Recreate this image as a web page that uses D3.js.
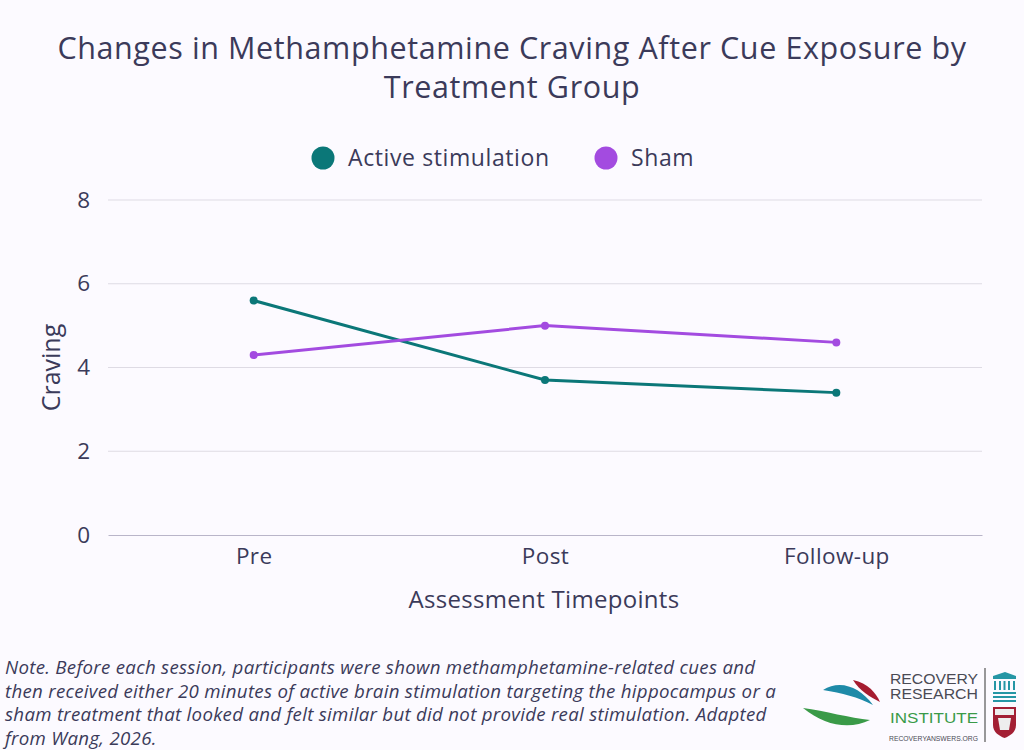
<!DOCTYPE html>
<html>
<head>
<meta charset="utf-8">
<script src="https://cdn.jsdelivr.net/npm/d3@7"></script>
<style>
  body { margin: 0; background: #fcfaff; }
  svg { display: block; font-family: "Open Sans", "Noto Sans", sans-serif; }
</style>
</head>
<body>
<div id="chart"></div>
<script>
// Data
var timepoints = ["Pre", "Post", "Follow-up"];
var activeValues = [5.6, 3.7, 3.4];
var shamValues = [4.3, 5.0, 4.6];
var yTicks = [0, 2, 4, 6, 8];
var seriesNames = ["Active stimulation", "Sham"];

var titleLines = ["Changes in Methamphetamine Craving After Cue Exposure by", "Treatment Group"];
var noteLines = [
  "Note. Before each session, participants were shown methamphetamine-related cues and",
  "then received either 20 minutes of active brain stimulation targeting the hippocampus or a",
  "sham treatment that looked and felt similar but did not provide real stimulation. Adapted",
  "from Wang, 2026."
];

var svgWidth = 1024;
var svgHeight = 750;
var textColor = "#3b3a5a";
var colors = ["#0b7778", "#a34be0"];

var margins = { top: 200, right: 42, bottom: 215, left: 108 };
var width = svgWidth - margins.left - margins.right;
var height = svgHeight - margins.top - margins.bottom;

var svg = d3.select("#chart")
  .append("svg")
  .attr("width", svgWidth)
  .attr("height", svgHeight);

svg.append("rect")
  .attr("width", svgWidth)
  .attr("height", svgHeight)
  .attr("fill", "#fcfaff");

// Title
svg.append("g").selectAll("text")
  .data(titleLines)
  .enter()
  .append("text")
  .attr("x", svgWidth / 2)
  .attr("y", (d, i) => 59 + i * 39)
  .attr("text-anchor", "middle")
  .attr("font-size", 30.5)
  .attr("letter-spacing", 0.6)
  .attr("fill", textColor)
  .text(d => d);

// Legend
var legend = svg.append("g");
var legendX = [323, 606];
seriesNames.forEach(function(name, i) {
  legend.append("circle")
    .attr("cx", legendX[i])
    .attr("cy", 158)
    .attr("r", 11.5)
    .attr("fill", colors[i]);
  legend.append("text")
    .attr("x", legendX[i] + 25)
    .attr("y", 166)
    .attr("font-size", 23)
    .attr("letter-spacing", 0.6)
    .attr("fill", textColor)
    .text(name);
});

var chartGroup = svg.append("g")
  .attr("transform", `translate(${margins.left}, ${margins.top})`);

// Scales
var xScale = d3.scalePoint()
  .domain(timepoints)
  .range([0, width])
  .padding(0.5);

var yScale = d3.scaleLinear()
  .domain([0, 8])
  .range([height, 0]);

// Gridlines
chartGroup.append("g")
  .selectAll("line")
  .data(yTicks.filter(d => d > 0))
  .enter()
  .append("line")
  .attr("x1", 0)
  .attr("x2", width)
  .attr("y1", d => yScale(d))
  .attr("y2", d => yScale(d))
  .attr("stroke", "#dedbe4")
  .attr("stroke-width", 1);

// Axes
var leftAxis = d3.axisLeft(yScale).tickValues(yTicks).tickSize(0).tickPadding(18);
var yAxisG = chartGroup.append("g").call(leftAxis);
yAxisG.select(".domain").remove();
yAxisG.selectAll("text")
  .attr("font-size", 22.5)
  .attr("font-family", "'Open Sans', sans-serif")
  .attr("fill", textColor);

var bottomAxis = d3.axisBottom(xScale).tickSize(0).tickPadding(13);
var xAxisG = chartGroup.append("g")
  .attr("transform", `translate(0, ${height})`)
  .call(bottomAxis);
xAxisG.select(".domain")
  .attr("stroke", "#b9b5c9")
  .attr("stroke-width", 1.2);
xAxisG.selectAll("text")
  .attr("font-size", 22.5)
  .attr("letter-spacing", 0.4)
  .attr("font-family", "'Open Sans', sans-serif")
  .attr("fill", textColor);

// Lines
var series = [activeValues, shamValues];
var line = d3.line()
  .x((d, i) => xScale(timepoints[i]))
  .y(d => yScale(d));

series.forEach(function(values, s) {
  chartGroup.append("path")
    .datum(values)
    .attr("fill", "none")
    .attr("stroke", colors[s])
    .attr("stroke-width", 3)
    .attr("d", line);

  chartGroup.selectAll(".dot" + s)
    .data(values)
    .enter()
    .append("circle")
    .attr("class", "dot" + s)
    .attr("cx", (d, i) => xScale(timepoints[i]))
    .attr("cy", d => yScale(d))
    .attr("r", 4)
    .attr("fill", colors[s]);
});

// Axis names
chartGroup.append("text")
  .attr("transform", "rotate(-90)")
  .attr("x", -height / 2)
  .attr("y", -48)
  .attr("text-anchor", "middle")
  .attr("font-size", 25)
  .attr("fill", textColor)
  .text("Craving");

chartGroup.append("text")
  .attr("x", width / 2 - 1)
  .attr("y", height + 73)
  .attr("text-anchor", "middle")
  .attr("font-size", 24)
  .attr("letter-spacing", 0.3)
  .attr("fill", textColor)
  .text("Assessment Timepoints");

// Note
svg.append("g").selectAll("text")
  .data(noteLines)
  .enter()
  .append("text")
  .attr("x", 5)
  .attr("y", (d, i) => 674 + i * 23.5)
  .attr("font-size", 18.7)
  .attr("font-style", "italic")
  .attr("letter-spacing", 0.28)
  .attr("fill", textColor)
  .text(d => d);

// Logo
var logo = svg.append("g").attr("transform", "translate(790, 655)");
logo.append("path")
  .attr("d", "M13,53 C35,56 60,63 80,65 C60,75 35,71 13,53 Z")
  .attr("fill", "#3a9a48");
logo.append("path")
  .attr("d", "M33,35 C50,24 70,32 83,50 C68,42 52,38 33,35 Z")
  .attr("fill", "#1e8aa8");
logo.append("path")
  .attr("d", "M63,25 C78,28 86,38 90,47 C80,42 70,36 63,25 Z")
  .attr("fill", "#a51c30");
var logoFont = "'Liberation Sans Narrow', 'Liberation Sans', sans-serif";
[["RECOVERY", 29, "#4a4a55"], ["RESEARCH", 44, "#4a4a55"], ["INSTITUTE", 68, "#3a9a48"]].forEach(function(t) {
  logo.append("text")
    .attr("x", 100).attr("y", t[1])
    .attr("font-size", 15.5)
    .attr("font-family", logoFont)
    .attr("fill", t[2])
    .attr("textLength", 88)
    .attr("lengthAdjust", "spacingAndGlyphs")
    .text(t[0]);
});
logo.append("text")
  .attr("x", 99).attr("y", 86)
  .attr("font-size", 7)
  .attr("font-family", logoFont)
  .attr("fill", "#4a4a55")
  .attr("textLength", 89)
  .attr("lengthAdjust", "spacingAndGlyphs")
  .text("RECOVERYANSWERS.ORG");
logo.append("line").attr("x1", 195).attr("x2", 195).attr("y1", 13).attr("y2", 87).attr("stroke", "#555").attr("stroke-width", 1.2);
var bldg = logo.append("g").attr("fill", "#2596a5");
bldg.append("path").attr("d", "M203,21 L215,17 L226,21 L226,24 L203,24 Z");
[205, 210, 214.5, 219, 224].forEach(function(x) {
  bldg.append("rect").attr("x", x - 1).attr("y", 26).attr("width", 2).attr("height", 9);
});
bldg.append("rect").attr("x", 203).attr("y", 37).attr("width", 23).attr("height", 2);
bldg.append("rect").attr("x", 203).attr("y", 41).attr("width", 23).attr("height", 2);
bldg.append("rect").attr("x", 203).attr("y", 45).attr("width", 23).attr("height", 2);
logo.append("path")
  .attr("d", "M203,52 L226,52 L226,70 C226,77 220,81 214.5,83 C209,81 203,77 203,70 Z")
  .attr("fill", "#a31f34");
logo.append("rect").attr("x", 205).attr("y", 54).attr("width", 19).attr("height", 6).attr("fill", "#eeeeee");
logo.append("path").attr("d", "M208,63 L221,63 L219,75 L210,75 Z").attr("fill", "#eeeeee");
</script>
</body>
</html>
